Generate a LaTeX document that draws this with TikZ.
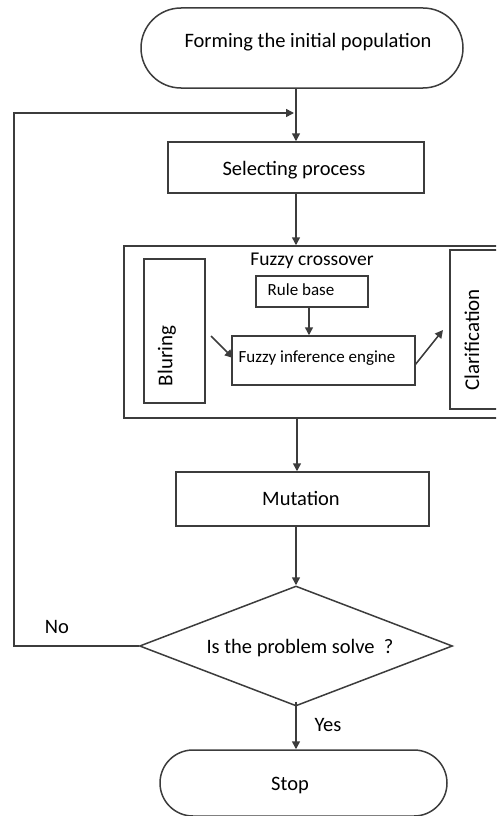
\documentclass[tikz,border=0pt]{standalone}
\usepackage{fontspec}
\setmainfont{Carlito}
\usetikzlibrary{arrows.meta,shapes.geometric,shapes.misc}
\definecolor{ln}{HTML}{3C3C3C}
\tikzset{
  box/.style={draw=ln,line width=1.5pt,inner sep=0pt,fill=white},
  term/.style={box,rounded rectangle},
  dec/.style={box,diamond},
  txt/.style={inner sep=0pt,font=\fontsize{20.5}{24}\selectfont},
  arr/.style={draw=ln,line width=1.5pt,-{Triangle[length=8pt,width=8pt]}},
}
\begin{document}
\begin{tikzpicture}[x=1pt,y=-1pt]
\useasboundingbox (0,0) rectangle (496,816);
\clip (0,0) rectangle (496,816);
% shapes
\node[term,minimum width=322pt,minimum height=80pt] (start) at (302,48) {};
\node[txt] (starttxt) at (308,42) {Forming the initial population};
\node[box,minimum width=256pt,minimum height=51pt] (sel) at (296,167.5) {};
\node[txt] (seltxt) at (294,170) {Selecting process};
\node[box,minimum width=376pt,minimum height=172pt] (fuzzy) at (312,332) {};
\node[txt,font=\fontsize{19.5}{23}\selectfont] (fuzzytxt) at (312,261) {Fuzzy crossover};
\node[box,minimum width=112pt,minimum height=31pt] (rule) at (312,291.5) {};
\node[txt,font=\fontsize{17}{20}\selectfont] (ruletxt) at (301,290) {Rule base};
\node[box,minimum width=183pt,minimum height=49pt] (fie) at (323.5,360.5) {};
\node[txt,font=\fontsize{17}{20}\selectfont] (fietxt) at (317,358) {Fuzzy inference engine};
\node[box,minimum width=61pt,minimum height=144pt] (blur) at (174.5,331) {};
\node[txt,rotate=90,font=\fontsize{21}{25}\selectfont] (blurtxt) at (167,356) {Bluring};
\node[box,minimum width=50pt,minimum height=159pt] (clar) at (475,329.5) {};
\node[txt,rotate=90,font=\fontsize{21}{25}\selectfont] (clartxt) at (472,340) {Clarification};
\node[box,minimum width=253pt,minimum height=54pt] (mut) at (302.5,499) {};
\node[txt] (muttxt) at (301,498) {Mutation};
\node[dec,minimum width=313pt,minimum height=120pt] (dec) at (296,646) {};
\node[txt] (dectxt) at (300,648) {Is the problem solve\ \ ?};
\node[term,minimum width=287pt,minimum height=66pt] (stop) at (303.5,783) {};
\node[txt] (stoptxt) at (290,785) {Stop};
\node[txt] (yes) at (328,725) {Yes};
\node[txt] (no) at (57,627) {No};
% helper coordinates
\coordinate (m) at (296,113);
\coordinate (lt) at (14,113);
\coordinate (bs) at (211,336);
\coordinate (be) at (233,358);
\coordinate (cs) at (415,365);
\coordinate (ce) at (443,330);
% connectors
\draw[arr] (sel.north |- start.south) -- (sel.north);
\draw[arr] (dec.west) -- (lt |- dec.west) -- (lt) -- ([xshift=-2pt]m);
\draw[arr] (sel.south) -- (sel.south |- fuzzy.north);
\draw[arr] (rule.south -| 309,0) -- (fie.north -| 309,0);
\draw[arr] (bs) -- (be);
\draw[arr] (cs) -- (ce);
\draw[arr] (fuzzy.south -| 297,0) -- (mut.north -| 297,0);
\draw[arr] (mut.south -| dec.north) -- (dec.north);
\draw[arr] ([yshift=5pt]dec.south) -- (dec.south |- stop.north);
\end{tikzpicture}
\end{document}
